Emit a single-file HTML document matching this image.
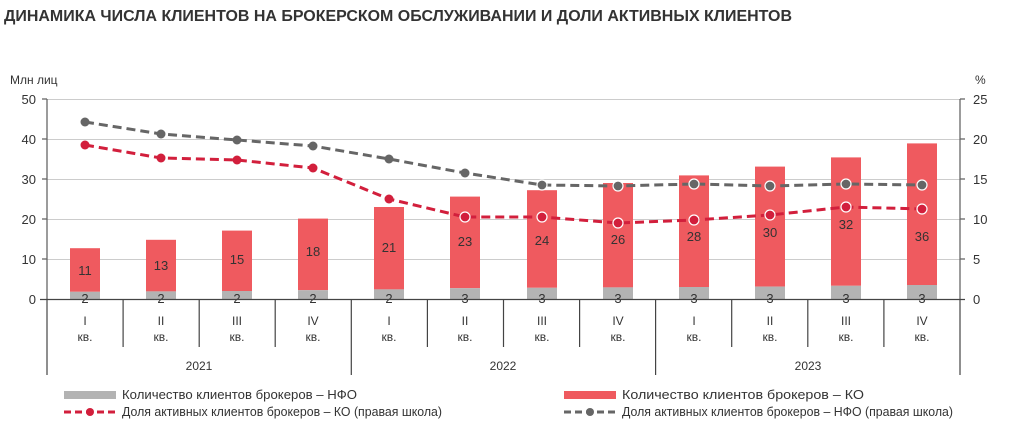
<!DOCTYPE html>
<html><head><meta charset="utf-8"><style>body{margin:0;background:#fff}svg{display:block}</style></head><body>
<svg width="1009" height="431" xmlns="http://www.w3.org/2000/svg" font-family="Liberation Sans, sans-serif">
<text x="4" y="21" font-size="16" font-weight="bold" fill="#333" textLength="788" lengthAdjust="spacingAndGlyphs">ДИНАМИКА ЧИСЛА КЛИЕНТОВ НА БРОКЕРСКОМ ОБСЛУЖИВАНИИ И ДОЛИ АКТИВНЫХ КЛИЕНТОВ</text>
<text x="10" y="84" font-size="12" fill="#333">Млн лиц</text>
<text x="975" y="84" font-size="12" fill="#333">%</text>
<g stroke="#ccc" stroke-width="1">
<line x1="47" x2="960" y1="99.5" y2="99.5"/><line x1="47" x2="960" y1="139.5" y2="139.5"/><line x1="47" x2="960" y1="179.5" y2="179.5"/><line x1="47" x2="960" y1="219.5" y2="219.5"/><line x1="47" x2="960" y1="259.5" y2="259.5"/>
</g>
<g stroke="#666" stroke-width="1.3">
<line x1="47" x2="47" y1="99" y2="299"/><line x1="960" x2="960" y1="99" y2="299"/>
<line x1="42" x2="47" y1="99" y2="99"/><line x1="42" x2="47" y1="139" y2="139"/><line x1="42" x2="47" y1="179" y2="179"/><line x1="42" x2="47" y1="219" y2="219"/><line x1="42" x2="47" y1="259" y2="259"/>
<line x1="960" x2="965" y1="99" y2="99"/><line x1="960" x2="965" y1="139" y2="139"/><line x1="960" x2="965" y1="179" y2="179"/><line x1="960" x2="965" y1="219" y2="219"/><line x1="960" x2="965" y1="259" y2="259"/>
</g>
<g font-size="13" fill="#333" text-anchor="end">
<text x="36" y="104">50</text><text x="36" y="144">40</text><text x="36" y="184">30</text><text x="36" y="224">20</text><text x="36" y="264">10</text><text x="36" y="304">0</text>
</g>
<g font-size="13" fill="#333">
<text x="973" y="104">25</text><text x="973" y="144">20</text><text x="973" y="184">15</text><text x="973" y="224">10</text><text x="973" y="264">5</text><text x="973" y="304">0</text>
</g>
<g fill="#ef5a5f">
<rect x="70" y="248.2" width="30" height="43.6"/>
<rect x="146" y="239.8" width="30" height="51.6"/>
<rect x="222" y="230.6" width="30" height="60.4"/>
<rect x="298" y="218.6" width="30" height="71.6"/>
<rect x="374" y="207" width="30" height="82.4"/>
<rect x="450" y="196.6" width="30" height="91.6"/>
<rect x="527" y="190.2" width="30" height="97.6"/>
<rect x="603" y="183" width="30" height="104.4"/>
<rect x="679" y="175.4" width="30" height="111.6"/>
<rect x="755" y="166.6" width="30" height="120"/>
<rect x="831" y="157.4" width="30" height="128.4"/>
<rect x="907" y="143.4" width="30" height="141.6"/>
</g>
<g fill="#b3b3b3">
<rect x="70" y="291.8" width="30" height="7.2"/>
<rect x="146" y="291.4" width="30" height="7.6"/>
<rect x="222" y="291" width="30" height="8"/>
<rect x="298" y="290.2" width="30" height="8.8"/>
<rect x="374" y="289.4" width="30" height="9.6"/>
<rect x="450" y="288.2" width="30" height="10.8"/>
<rect x="527" y="287.8" width="30" height="11.2"/>
<rect x="603" y="287.4" width="30" height="11.6"/>
<rect x="679" y="287" width="30" height="12"/>
<rect x="755" y="286.6" width="30" height="12.4"/>
<rect x="831" y="285.8" width="30" height="13.2"/>
<rect x="907" y="285" width="30" height="14"/>
</g>
<g font-size="13" fill="#333" text-anchor="middle">
<text x="85" y="275">11</text><text x="161" y="270">13</text><text x="237" y="264">15</text><text x="313" y="256">18</text><text x="389" y="252">21</text><text x="465" y="246">23</text><text x="542" y="245">24</text><text x="618" y="244">26</text><text x="694" y="241">28</text><text x="770" y="237">30</text><text x="846" y="229">32</text><text x="922" y="241">36</text>
<text x="85" y="303">2</text><text x="161" y="303">2</text><text x="237" y="303">2</text><text x="313" y="303">2</text><text x="389" y="303">2</text><text x="465" y="303">3</text><text x="542" y="303">3</text><text x="618" y="303">3</text><text x="694" y="303">3</text><text x="770" y="303">3</text><text x="846" y="303">3</text><text x="922" y="303">3</text>
</g>
<g font-size="12" fill="#333" text-anchor="middle">
<text x="85" y="325">I</text><text x="161" y="325">II</text><text x="237" y="325">III</text><text x="313" y="325">IV</text><text x="389" y="325">I</text><text x="465" y="325">II</text><text x="542" y="325">III</text><text x="618" y="325">IV</text><text x="694" y="325">I</text><text x="770" y="325">II</text><text x="846" y="325">III</text><text x="922" y="325">IV</text>
<text x="85" y="341">кв.</text><text x="161" y="341">кв.</text><text x="237" y="341">кв.</text><text x="313" y="341">кв.</text><text x="389" y="341">кв.</text><text x="465" y="341">кв.</text><text x="542" y="341">кв.</text><text x="618" y="341">кв.</text><text x="694" y="341">кв.</text><text x="770" y="341">кв.</text><text x="846" y="341">кв.</text><text x="922" y="341">кв.</text>
<text x="199" y="370">2021</text><text x="503" y="370">2022</text><text x="808" y="370">2023</text>
</g>
<g stroke="#444" stroke-width="1.2">
<line x1="40" x2="965" y1="299.5" y2="299.5"/>
<line x1="47" x2="47" y1="299" y2="375"/><line x1="123.1" x2="123.1" y1="299" y2="347"/><line x1="199.2" x2="199.2" y1="299" y2="347"/><line x1="275.2" x2="275.2" y1="299" y2="347"/><line x1="351.3" x2="351.3" y1="299" y2="375"/><line x1="427.4" x2="427.4" y1="299" y2="347"/><line x1="503.5" x2="503.5" y1="299" y2="347"/><line x1="579.6" x2="579.6" y1="299" y2="347"/><line x1="655.6" x2="655.6" y1="299" y2="375"/><line x1="731.7" x2="731.7" y1="299" y2="347"/><line x1="807.8" x2="807.8" y1="299" y2="347"/><line x1="883.9" x2="883.9" y1="299" y2="347"/><line x1="960" x2="960" y1="299" y2="375"/>
</g>
<polyline points="85,122 161,134 237,140 313,146 389,159 465,173 542,185 618,186 694,184 770,186 846,184 922,185" fill="none" stroke="#666" stroke-width="3" stroke-dasharray="9,5"/>
<polyline points="85,145 161,158 237,160 313,168 389,199 465,217 542,217 618,223 694,220 770,215 846,207 922,209" fill="none" stroke="#d21f3c" stroke-width="3" stroke-dasharray="9,5"/>
<g fill="#666">
<circle cx="85" cy="122" r="4.5"/><circle cx="161" cy="134" r="4.5"/><circle cx="237" cy="140" r="4.5"/><circle cx="313" cy="146" r="4.5"/><circle cx="389" cy="159" r="4.5"/><circle cx="465" cy="173" r="4.5"/>
<g stroke="#fff" stroke-width="1.2"><circle cx="542" cy="185" r="5"/><circle cx="618" cy="186" r="5"/><circle cx="694" cy="184" r="5"/><circle cx="770" cy="186" r="5"/><circle cx="846" cy="184" r="5"/><circle cx="922" cy="185" r="5"/></g>
</g>
<g fill="#d21f3c">
<circle cx="85" cy="145" r="4.5"/><circle cx="161" cy="158" r="4.5"/><circle cx="237" cy="160" r="4.5"/><circle cx="313" cy="168" r="4.5"/><circle cx="389" cy="199" r="4.5"/>
<g stroke="#fff" stroke-width="1.2"><circle cx="465" cy="217" r="5"/><circle cx="542" cy="217" r="5"/><circle cx="618" cy="223" r="5"/><circle cx="694" cy="220" r="5"/><circle cx="770" cy="215" r="5"/><circle cx="846" cy="207" r="5"/><circle cx="922" cy="209" r="5"/></g>
</g>
<rect x="64" y="391" width="52" height="8" fill="#b3b3b3"/>
<text x="122" y="399" font-size="12.5" fill="#333" textLength="235" lengthAdjust="spacingAndGlyphs">Количество клиентов брокеров – НФО</text>
<rect x="564" y="391" width="52" height="8" fill="#ef5a5f"/>
<text x="622" y="399" font-size="12.5" fill="#333" textLength="242" lengthAdjust="spacingAndGlyphs">Количество клиентов брокеров – КО</text>
<line x1="64" x2="116" y1="412" y2="412" stroke="#d21f3c" stroke-width="3" stroke-dasharray="7,4"/>
<circle cx="90" cy="412" r="4" fill="#d21f3c"/>
<text x="122" y="416" font-size="12.5" fill="#333" textLength="320" lengthAdjust="spacingAndGlyphs">Доля активных клиентов брокеров – КО (правая школа)</text>
<line x1="564" x2="616" y1="412" y2="412" stroke="#666" stroke-width="3" stroke-dasharray="7,4"/>
<circle cx="590" cy="412" r="4" fill="#666"/>
<text x="622" y="416" font-size="12.5" fill="#333" textLength="331" lengthAdjust="spacingAndGlyphs">Доля активных клиентов брокеров – НФО (правая школа)</text>
</svg>
</body></html>
